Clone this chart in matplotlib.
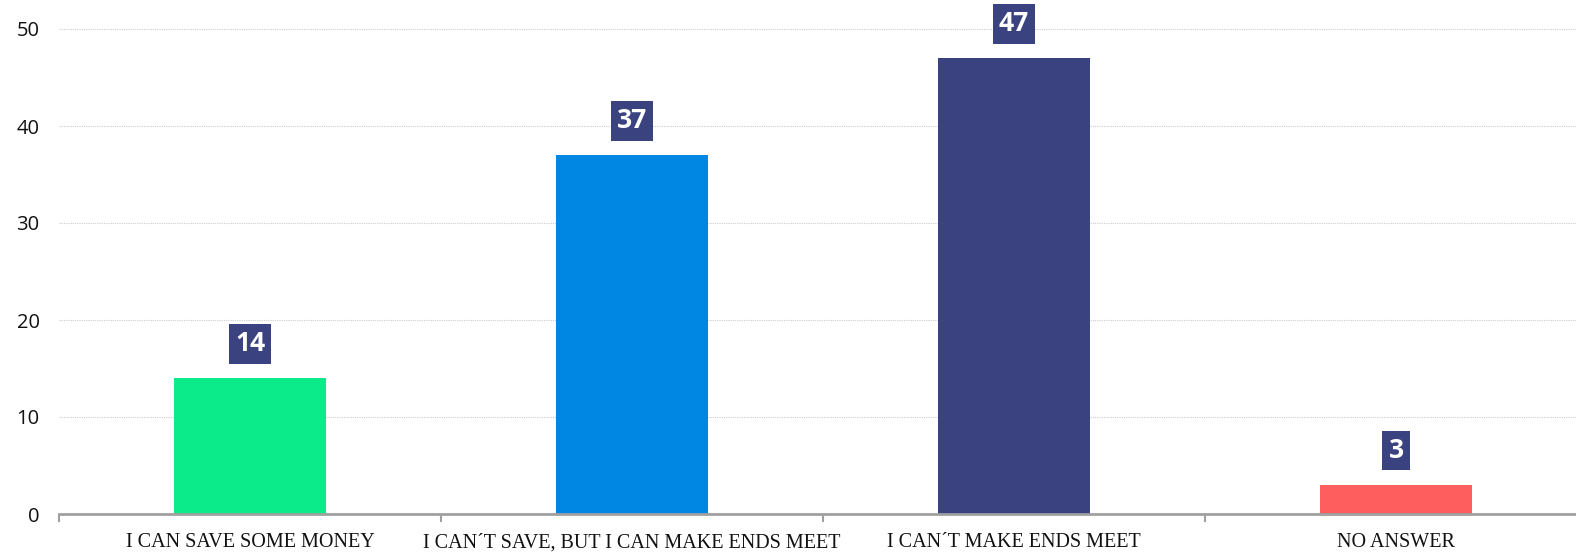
import matplotlib
matplotlib.use("Agg")
import matplotlib.pyplot as plt
from matplotlib.ticker import FixedLocator

categories = ["I CAN SAVE SOME MONEY", "I CAN\u00b4T SAVE, BUT I CAN MAKE ENDS MEET",
              "I CAN\u00b4T MAKE ENDS MEET", "NO ANSWER"]
values = [14, 37, 47, 3]
colors = ["#0beb89", "#0087e3", "#3a437f", "#ff5e5e"]
yticks = [0, 10, 20, 30, 40, 50]

W, H = 1576, 553
fig = plt.figure(figsize=(W / 100, H / 100), dpi=100)
left = 59 / W
bottom = (H - 514) / H
width = 1528 / W
ymax = 514 / 9.7
height = 514 / H
ax = fig.add_axes([left, bottom, width, height])

x = list(range(len(categories)))
ax.bar(x, values, width=0.4, color=colors, zorder=3)
ax.set_xlim(-0.5, len(categories) - 0.5)
ax.set_ylim(0, ymax)

for s in ["top", "right", "left"]:
    ax.spines[s].set_visible(False)
ax.spines["bottom"].set_color("#a0a0a0")
ax.spines["bottom"].set_linewidth(2)
ax.spines["bottom"].set_zorder(4)

ax.set_yticks(yticks)
ax.set_yticklabels([str(v) for v in yticks], fontfamily="Open Sans", fontsize=14.5, color="#111111")
ax.tick_params(axis="y", length=0, pad=14)
ax.yaxis.grid(True, color="#cccccc", linestyle=(0, (1, 1)), linewidth=0.8)
ax.set_axisbelow(True)

ax.set_xticks(x)
ax.set_xticklabels(categories, fontfamily="Liberation Serif", fontsize=14.5, color="#111111")
ax.tick_params(axis="x", which="major", length=0, pad=14)
ax.xaxis.set_minor_locator(FixedLocator([i - 0.5 for i in range(len(categories))]))
ax.tick_params(axis="x", which="minor", length=6, width=1.5, color="#a0a0a0")

for xi, v in zip(x, values):
    ax.annotate(str(v), xy=(xi, v), xytext=(0, 15), textcoords="offset points",
                ha="center", va="bottom", fontfamily="Open Sans", fontweight="bold",
                fontsize=19, color="white", zorder=5, annotation_clip=False,
                bbox=dict(boxstyle="square,pad=0.24", facecolor="#3a437f", edgecolor="none"))

fig.savefig("out.png", dpi=100)
